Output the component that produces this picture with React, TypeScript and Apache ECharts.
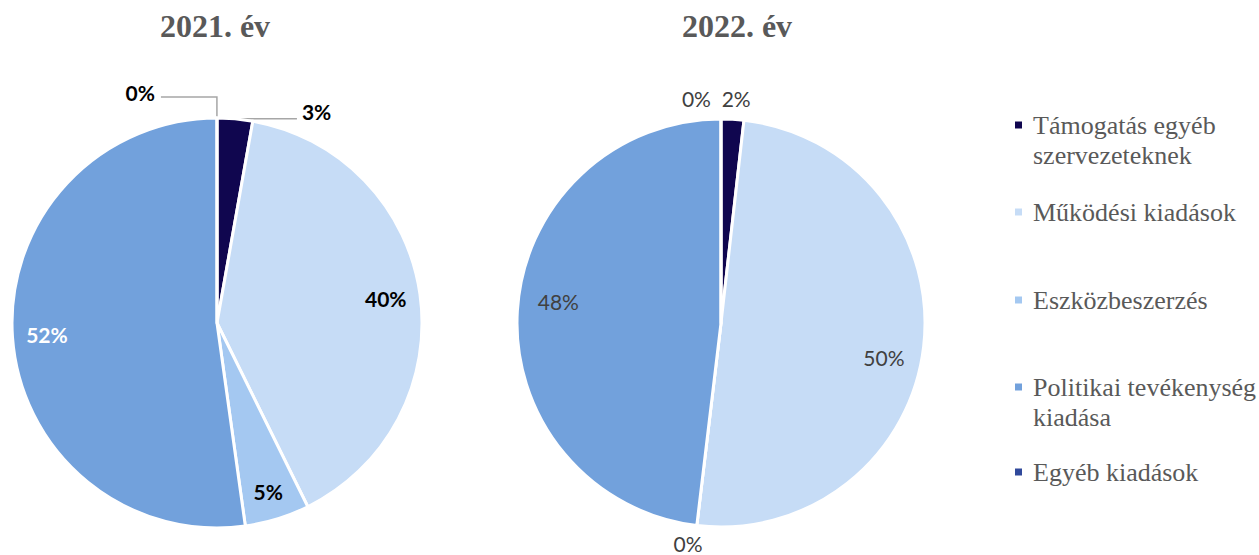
import React, { useEffect, useRef } from "react";
import * as echarts from "echarts";

const categories = [
  "Támogatás egyéb szervezeteknek",
  "Működési kiadások",
  "Eszközbeszerzés",
  "Politikai tevékenység kiadása",
  "Egyéb kiadások",
];
const legendLabels = [
  "Támogatás egyéb\nszervezeteknek",
  "Működési kiadások",
  "Eszközbeszerzés",
  "Politikai tevékenység\nkiadása",
  "Egyéb kiadások",
];
const years = ["2021. év", "2022. év"];
const values2021 = [2.8, 39.9, 5.1, 52.2, 0];
const values2022 = [1.8, 50.1, 0, 48.1, 0];

const colors = ["#10064f", "#c6dcf6", "#a4c8f1", "#72a1dc", "#30499b"];

const pct = (p: any) => Math.round(p.percent) + "%";

// label placement styles per slice (not data)
const labelStyles2021: any[] = [
  { position: "outside", lineShow: true, length: 0, length2: 62, dist: 5, color: "#000000", offset: [0, -7] },
  { position: "inside", color: "#000000" },
  { position: "inside", color: "#000000", offset: [1, 6] },
  { position: "inside", color: "#ffffff" },
  { position: "outside", lineShow: true, length: 21, length2: 56, dist: 6, color: "#000000", offset: [0, -5] },
];
const labelStyles2022: any[] = [
  { position: "outside", lineShow: false, length: 21, length2: 0, dist: -12, color: "#404040" },
  { position: "inside", color: "#404040", offset: [-6, 15] },
  { position: "outside", lineShow: false, length: 18, length2: 0, dist: -8, color: "#404040" },
  { position: "inside", color: "#404040", offset: [7, -11] },
  { position: "outside", lineShow: false, length: 21, length2: 0, dist: 10, color: "#404040" },
];

const legendIconCenters = [125, 212, 300, 387, 472];

function mainSeries(values: number[], center: number[], radius: number) {
  return {
    type: "pie",
    center,
    radius: [0, radius],
    startAngle: 90.02,
    clockwise: true,
    avoidLabelOverlap: false,
    label: { show: false },
    labelLine: { show: false },
    itemStyle: { borderColor: "#ffffff", borderWidth: 3 },
    emphasis: { disabled: true },
    data: values.map((v, i) => ({
      name: categories[i],
      value: v,
      itemStyle: { color: colors[i] },
    })),
  };
}

function labelSeries(values: number[], center: number[], radius: number, styles: any[], bold: boolean) {
  return {
    type: "pie",
    center,
    radius: [130, radius],
    startAngle: 90.02,
    clockwise: true,
    avoidLabelOverlap: false,
    silent: true,
    itemStyle: { color: "rgba(0,0,0,0)", borderWidth: 0 },
    emphasis: { disabled: true },
    labelLayout: { hideOverlap: false },
    data: values.map((v, i) => {
      const s = styles[i];
      return {
        name: categories[i],
        value: v,
        label: {
          show: true,
          position: s.position,
          formatter: pct,
          color: s.color,
          fontFamily: "Lato",
          fontSize: 21,
          fontWeight: bold ? "bold" : "normal",
          distanceToLabelLine: s.dist ?? 5,
          offset: s.offset ?? [0, 0],
        },
        labelLine: {
          show: !!s.lineShow,
          length: s.length ?? 0,
          length2: s.length2 ?? 0,
          smooth: false,
          lineStyle: { color: "#a6a6a6", width: 1.5 },
        },
      };
    }),
  };
}

export default function App() {
  const ref = useRef<HTMLDivElement>(null);
  useEffect(() => {
    if (!ref.current) return;
    const chart = echarts.init(ref.current, undefined, { renderer: "svg" });
    const option: any = {
      animation: false,
      backgroundColor: "#ffffff",
      title: [
        {
          text: years[0],
          left: 215,
          top: 10,
          textAlign: "center",
          padding: 0,
          textStyle: { fontFamily: "Liberation Serif", fontSize: 32, fontWeight: "bold", color: "#595959" },
        },
        {
          text: years[1],
          left: 737,
          top: 10,
          textAlign: "center",
          padding: 0,
          textStyle: { fontFamily: "Liberation Serif", fontSize: 32, fontWeight: "bold", color: "#595959" },
        },
      ],
      legend: categories.map((name, i) => {
        const twoLine = legendLabels[i].includes("\n");
        return {
          data: [name],
          orient: "vertical",
          left: 1013,
          top: legendIconCenters[i] - (twoLine ? 45 : 15),
          padding: 0,
          itemWidth: 9,
          itemHeight: 9,
          icon: "rect",
          selectedMode: false,
          // a blank first line keeps the marker level with the first text line
          formatter: () => (twoLine ? "\u00a0\n" + legendLabels[i] : legendLabels[i]),
          textStyle: {
            fontFamily: "Liberation Serif",
            fontSize: 26,
            color: "#595959",
            lineHeight: 30,
            padding: [0, 0, 0, 5],
          },
        };
      }),
      series: [
        mainSeries(values2021, [217, 323], 205),
        mainSeries(values2022, [721, 323], 204),
        labelSeries(values2021, [217, 323], 205, labelStyles2021, true),
        labelSeries(values2022, [721, 323], 204, labelStyles2022, false),
      ],
    };
    chart.setOption(option);
    return () => chart.dispose();
  }, []);
  return (
    <div
      ref={ref}
      style={{ position: "absolute", left: 0, top: 0, width: 1259, height: 555, background: "#ffffff" }}
    />
  );
}
